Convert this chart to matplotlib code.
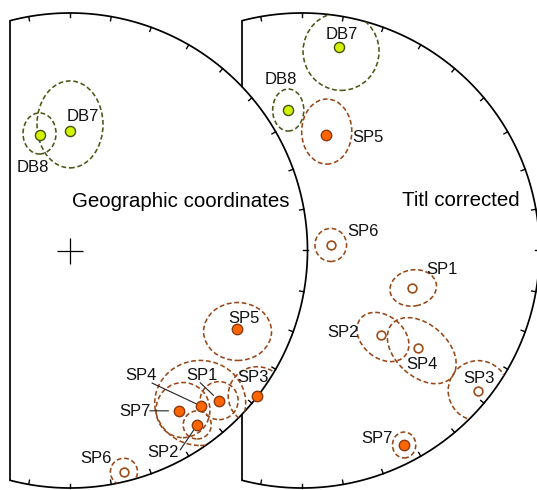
import matplotlib
matplotlib.use("Agg")
import matplotlib.pyplot as plt
import numpy as np
from matplotlib.patches import Ellipse, Polygon

plt.rcParams["font.family"] = ["Liberation Sans", "DejaVu Sans"]

# site mean directions (declination, inclination; negative = upper hemisphere)
geo_sites = ["DB7", "DB8", "SP5", "SP1", "SP4", "SP7", "SP2", "SP3", "SP6"]
geo_dec = [0.0, 345.4, 115.3, 135.2, 139.9, 145.8, 143.9, 127.8, 166.3]
geo_inc = [48.3, 48.4, 23.4, 11.9, 15.5, 19.5, 10.0, 0.3, -4.6]
# confidence ellipses: centre direction, axes (net radius units), tilt
geo_ell_dec = [0.0, 345.4, 115.8, 135.2, 139.5, 144.7, 143.9, 127.8, 166.3]
geo_ell_inc = [45.9, 47.8, 22.7, 11.9, 16.7, 18.8, 10.0, 0.3, -4.6]
geo_ell_w = [0.278, 0.139, 0.286, 0.160, 0.383, 0.227, 0.118, 0.244, 0.114]
geo_ell_h = [0.366, 0.173, 0.244, 0.160, 0.358, 0.232, 0.118, 0.244, 0.114]
geo_ell_ang = [0, 0, 0, 0, 0, 0, 0, 0, 0]

tilt_sites = ["DB7", "DB8", "SP5", "SP6", "SP1", "SP2", "SP4", "SP3", "SP7"]
tilt_dec = [10.3, 354.4, 11.6, 79.1, 108.7, 137.0, 129.9, 128.5, 152.3]
tilt_inc = [13.9, 40.3, 48.9, -80.0, -49.6, -49.8, -36.3, -5.8, 8.3]
tilt_ell_dec = [11.1, 354.4, 11.75, 79.1, 108.6, 136.9, 129.9, 128.5, 152.3]
tilt_ell_inc = [15.7, 40.3, 47.6, -80.0, -49.1, -48.7, -34.6, -5.8, 8.3]
tilt_ell_w = [0.320, 0.131, 0.211, 0.133, 0.197, 0.244, 0.337, 0.253, 0.098]
tilt_ell_h = [0.328, 0.177, 0.274, 0.139, 0.152, 0.177, 0.219, 0.253, 0.109]
tilt_ell_ang = [0, 0, 0, 0, 10, -40, -42, 0, 0]

# label placement (offset pixels from the point)
geo_label_off = [(-3, 10), (-23, -37), (-8, 6), (-33, 21), (-76, 26),
                 (-60, -5), (-50, -32), (-20, 14), (-44, 9)]
geo_leaders = {"SP4": ((-49, 23), 2.5), "SP1": ((-19, 18), 5.5),
               "SP7": ((-29, 0), 7.5), "SP2": ((-17, -25), 4.5)}
tilt_label_off = [(-13, 8), (-24, 26), (27, -7), (17, 9), (14, 14),
                  (-53, -2), (-12, -21), (-15, 8), (-43, 2)]

W, H = 537, 490
R = 237.5
CY = 250.5
CUT = -60 / R

SP_ELL = "#984818"
DB_ELL = "#4c5716"
SP_FILL, SP_EDGE = "#ff6500", "#8a3a10"
DB_FILL, DB_EDGE = "#d2f200", "#44520f"


def project(dec, inc):
    r = np.sqrt(2) * np.sin(np.radians(90 - abs(inc)) / 2)
    d = np.radians(dec)
    return r * np.sin(d), r * np.cos(d)


def net_axes(fig, cx):
    ax = fig.add_axes([0, 0, 1, 1])
    ax.set_xlim(-cx / R, (W - cx) / R)
    ax.set_ylim((CY - H) / R, CY / R)
    ax.axis("off")
    ax.patch.set_visible(False)

    a0 = np.degrees(np.arcsin(CUT))
    t = np.radians(np.linspace(a0, 180 - a0, 400))
    pts = np.column_stack([np.sin(t), np.cos(t)])
    outline = Polygon(pts, closed=True, facecolor="white", edgecolor="black",
                      lw=1.25, zorder=1)
    ax.add_patch(outline)
    for d in range(0, 360, 10):
        s, c = np.sin(np.radians(d)), np.cos(np.radians(d))
        if s < CUT:
            continue
        ax.plot([s, 0.982 * s], [c, 0.982 * c], color="black", lw=1.0, zorder=2)
    return ax, outline


def draw_sites(ax, outline, sites, dec, inc, edec, einc, ew, eh, eang, offs):
    for i, name in enumerate(sites):
        is_db = name.startswith("DB")
        ex, ey = project(edec[i], einc[i])
        ell = Ellipse((ex, ey), ew[i], eh[i], angle=eang[i], facecolor="none",
                      edgecolor=DB_ELL if is_db else SP_ELL, lw=1.15,
                      linestyle=(0, (3.0, 1.7)), zorder=3)
        ax.add_patch(ell)
        ell.set_clip_path(outline)

        x, y = project(dec[i], inc[i])
        if is_db:
            ax.plot(x, y, "o", ms=7.3, mfc=DB_FILL, mec=DB_EDGE, mew=1.0, zorder=5)
        elif inc[i] >= 0:
            ax.plot(x, y, "o", ms=7.5, mfc=SP_FILL, mec=SP_EDGE, mew=1.0, zorder=5)
        else:
            ax.plot(x, y, "o", ms=6.3, mfc="white", mec="#a04c18", mew=1.2, zorder=5)
        ax.annotate(name, (x, y), xytext=offs[i], textcoords="offset pixels",
                    ha="left", va="baseline", fontsize=12, color="#111111", zorder=6)


fig = plt.figure(figsize=(W / 100, H / 100), dpi=100)

# tilt corrected net (drawn first, partly hidden by the geographic one)
ax_t, out_t = net_axes(fig, 302)
draw_sites(ax_t, out_t, tilt_sites, tilt_dec, tilt_inc, tilt_ell_dec, tilt_ell_inc,
           tilt_ell_w, tilt_ell_h, tilt_ell_ang, tilt_label_off)
ax_t.text(0.42, 0.187, "Titl corrected", fontsize=14.8, ha="left", va="baseline")

# geographic net on top
ax_g, out_g = net_axes(fig, 70)
ax_g.set_zorder(2)
ax_g.plot(0, 0, "+", ms=18.7, mew=0.9, color="black", zorder=4)
draw_sites(ax_g, out_g, geo_sites, geo_dec, geo_inc, geo_ell_dec, geo_ell_inc,
           geo_ell_w, geo_ell_h, geo_ell_ang, geo_label_off)
for i, name in enumerate(geo_sites):
    if name in geo_leaders:
        start, gap = geo_leaders[name]
        x, y = project(geo_dec[i], geo_inc[i])
        ax_g.annotate("", (x, y), xytext=start, textcoords="offset pixels",
                      arrowprops=dict(arrowstyle="-", color="#222222", lw=0.8,
                                      shrinkA=0, shrinkB=gap), zorder=4)
ax_g.text(2 / R, 0.185, "Geographic coordinates", fontsize=14.8, ha="left", va="baseline")

fig.savefig("out.png", dpi=100)
